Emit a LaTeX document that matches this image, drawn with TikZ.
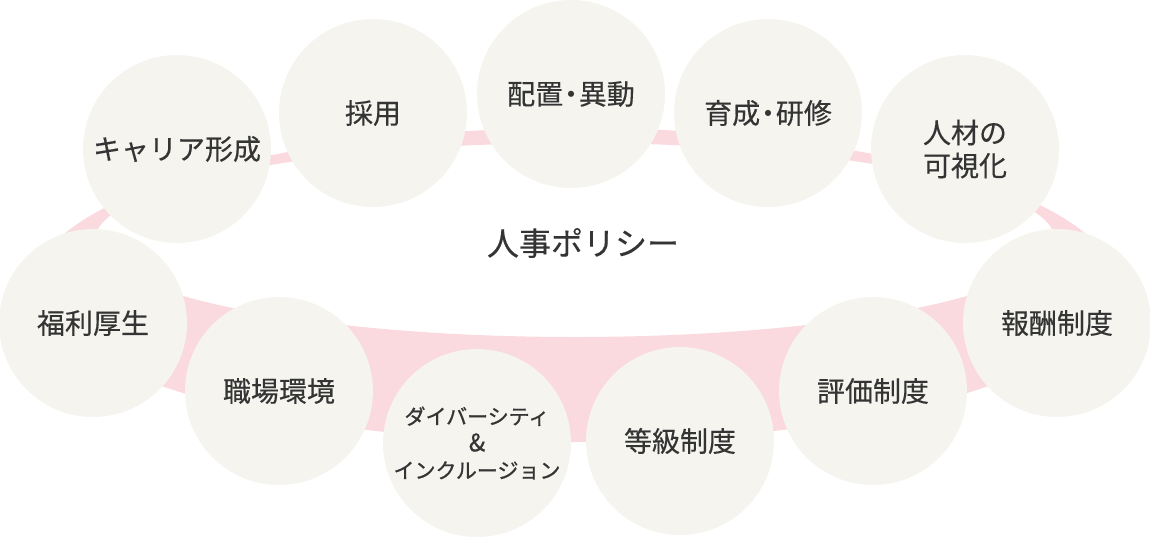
\documentclass[tikz,border=0pt]{standalone}
\usepackage{fontspec}
\setmainfont{Noto Sans CJK JP}
\newfontfamily\topicfont{Noto Sans CJK JP}[FakeBold=0.35]
\newfontfamily\smalltopicfont{Noto Sans CJK JP}[FakeBold=0.9]
\usepackage{xcolor}
\usepackage{tikz}
\usetikzlibrary{positioning}
\definecolor{ringcolor}{RGB}{250, 217, 223}
\definecolor{bubblecolor}{RGB}{245, 244, 239}
\definecolor{labelgray}{RGB}{52, 52, 52}
\newcommand{\middot}{\hspace{-0.22em}・\hspace{-0.22em}}
\tikzset{
    topic/.style={circle, minimum size=188pt, inner sep=0pt, fill=bubblecolor, text=labelgray, font=\topicfont\fontsize{28}{33}\selectfont, align=center},
    small topic/.style={topic, font=\smalltopicfont\fontsize{21}{27}\selectfont},
    policy label/.style={text=labelgray, font=\topicfont\fontsize{32}{38}\selectfont},
    ring/.style={fill=ringcolor, even odd rule}
}

\begin{document}
\begin{tikzpicture}[x=1pt, y=-1pt]
    \useasboundingbox (0,0) rectangle (1150,536);

    % Pink ring behind the topics
    \fill[ring] (575,285) ellipse [x radius=540pt, y radius=157pt]
                (575,240) ellipse [x radius=480pt, y radius=97pt];

    % Centre label
    \node[policy label] (policy) at (583,243) {人事ポリシー};

    % Upper arc of topics
    \node[topic] (career) at (177,149) {キャリア形成};
    \node[topic] (hiring) at (373,113) {採用};
    \node[topic] (placement) at (571,94) {配置\middot 異動};
    \node[topic] (training) at (768,113) {育成\middot 研修};
    \node[topic] (talent) at (965,149) {人材の\\可視化};

    % Lower arc of topics
    \node[topic] (reward) at (1057,323) {報酬制度};
    \node[topic] (evaluation) at (873,391) {評価制度};
    \node[topic] (grade) at (680,441) {等級制度};
    \node[small topic] (diversity) at (477,443) {ダイバーシティ\\{\fontsize{24}{27}\selectfont\&}\\インクルージョン};
    \node[topic] (workplace) at (279,391) {職場環境};
    \node[topic] (welfare) at (93,323) {福利厚生};
\end{tikzpicture}
\end{document}
